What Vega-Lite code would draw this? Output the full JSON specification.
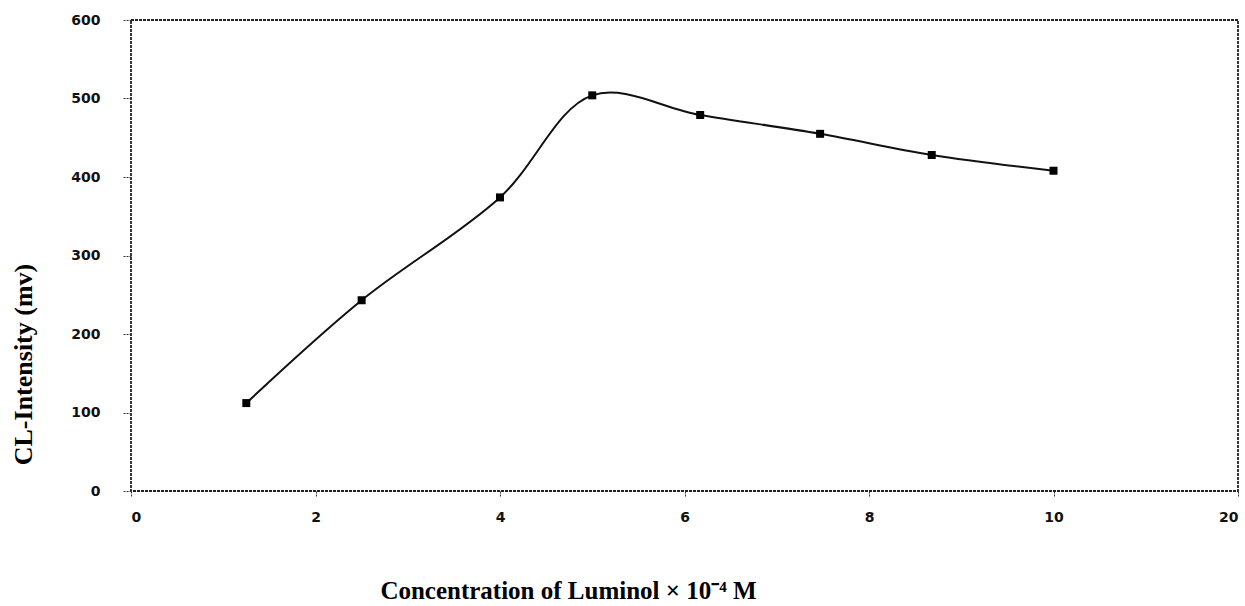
{
  "$schema": "https://vega.github.io/schema/vega-lite/v6.json",
  "autosize": "none",
  "width": 1107,
  "height": 471,
  "padding": {"left": 131, "top": 20, "right": 7, "bottom": 115},
  "background": "white",
  "config": {
    "view": {"stroke": "#222222", "strokeWidth": 1.8, "strokeDash": [3, 1]},
    "axis": {
      "domain": false,
      "grid": false,
      "ticks": true,
      "tickColor": "#333333",
      "tickDash": [2, 1],
      "labelFont": "DejaVu Sans",
      "labelFontWeight": "bold",
      "labelFontSize": 14,
      "labelColor": "#111111",
      "titleFont": "Liberation Serif",
      "titleFontWeight": "bold",
      "titleFontSize": 25,
      "titleColor": "#000000"
    }
  },
  "data": {
    "values": [
      {"conc": 1.25, "intensity": 112},
      {"conc": 2.5, "intensity": 243},
      {"conc": 4.0, "intensity": 374},
      {"conc": 5.0, "intensity": 504},
      {"conc": 6.17, "intensity": 479},
      {"conc": 7.47, "intensity": 455},
      {"conc": 8.68, "intensity": 428},
      {"conc": 10.0, "intensity": 408}
    ]
  },
  "encoding": {
    "x": {
      "field": "conc",
      "type": "quantitative",
      "scale": {"domain": [0, 12], "nice": false, "zero": true},
      "axis": {
        "values": [0, 2, 4, 6, 8, 10, 12],
        "labelExpr": "datum.value == 12 ? '20' : datum.label",
        "tickSize": 6,
        "labelPadding": 13,
        "title": "Concentration of Luminol × 10⁻⁴ M",
        "titleX": 437,
        "titleY": 107,
        "titleAnchor": "middle",
        "titleAlign": "center",
        "titleBaseline": "alphabetic"
      }
    },
    "y": {
      "field": "intensity",
      "type": "quantitative",
      "scale": {"domain": [0, 600], "nice": false},
      "axis": {
        "values": [0, 100, 200, 300, 400, 500, 600],
        "tickSize": 9,
        "labelPadding": 22,
        "title": "CL-Intensity (mv)",
        "titleFontSize": 26,
        "titleAngle": -90,
        "titleX": -108,
        "titleY": 344,
        "titleAlign": "center",
        "titleBaseline": "middle"
      }
    }
  },
  "layer": [
    {
      "mark": {"type": "line", "interpolate": "catmull-rom", "color": "#111111", "strokeWidth": 2}
    },
    {
      "mark": {"type": "point", "shape": "square", "filled": true, "size": 64, "color": "#000000", "opacity": 1}
    }
  ]
}
